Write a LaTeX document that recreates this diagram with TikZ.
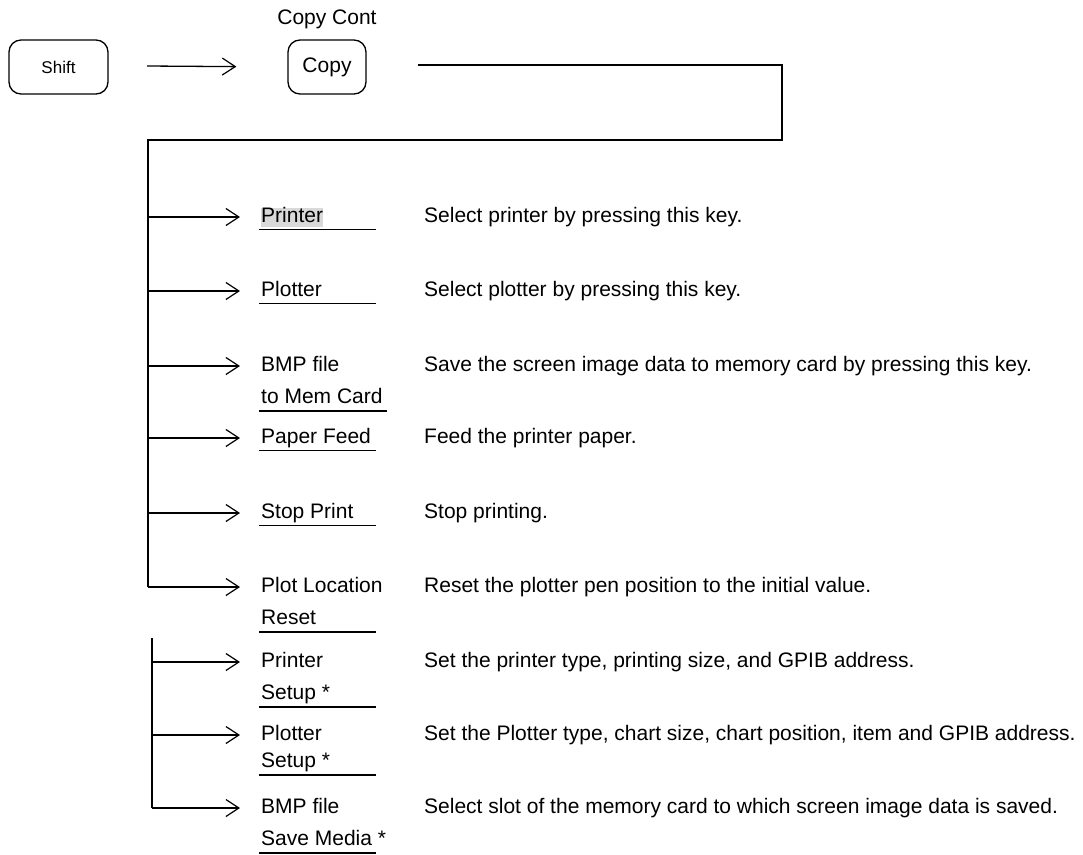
\documentclass[tikz,border=0pt]{standalone}
\usepackage{fontspec}
\setmainfont{Liberation Sans}
\usetikzlibrary{arrows.meta,positioning,calc}
\tikzset{key/.style={draw,line width=1.3pt,rounded corners=12pt,minimum height=54pt,inner sep=0pt},
 wire/.style={line width=1.3pt},arr/.style={wire,-{Straight Barb[length=13pt,width=17pt,line width=1.2pt]},shorten >=21pt},
 lbl/.style={anchor=west,inner sep=0pt,text height=15pt,text depth=4pt},
 desc/.style={lbl},
 every node/.style={font=\fontsize{21}{25}\selectfont}}

\begin{document}
\begin{tikzpicture}[x=1pt,y=-1pt]
\useasboundingbox (0,0) rectangle (1083,854);
\node[key,minimum width=99pt,font=\fontsize{17}{20}\selectfont] (shift) at (58.5,67) {Shift};
\node[key,minimum width=78pt] (copy) at (327,67) {Copy};
\node (cont) at (327,19) {Copy Cont};
\coordinate (s0) at (147,66);
\draw[arr,shorten >=51pt] (s0) -- (copy.west);
% bus from Copy down to the menu keys
\coordinate (c0) at (418,65);
\coordinate (corner) at (782,140);
\coordinate (bus) at (148,140);
% first group
\node[lbl,fill=gray!30] (pr) at (261,217) {Printer};
\node[lbl] (pl) at (261,291) {Plotter};
\node[lbl] (bmp) at (261,366) {BMP file};
\node[lbl,below=13pt of bmp.south west,anchor=north west] (bmp2) {to Mem Card};
\node[lbl] (pf) at (261,438) {Paper Feed};
\node[lbl] (sp) at (261,513) {Stop Print};
\node[lbl] (loc) at (261,587) {Plot Location};
\node[lbl,below=13pt of loc.south west,anchor=north west] (loc2) {Reset};
% second group
\node[lbl] (prs) at (261,662) {Printer};
\node[lbl,below=13pt of prs.south west,anchor=north west] (prs2) {Setup *};
\node[lbl] (pls) at (261,735) {Plotter};
\node[lbl,below=8pt of pls.south west,anchor=north west] (pls2) {Setup *};
\node[lbl] (bsm) at (261,808) {BMP file};
\node[lbl,below=13pt of bsm.south west,anchor=north west] (bsm2) {Save Media *};
% descriptions
\node[desc] (dpr) at (424,217) {Select printer by pressing this key.};
\node[desc] (dpl) at (424,291) {Select plotter by pressing this key.};
\node[desc] (dbmp) at (424,366) {Save the screen image data to memory card by pressing this key.};
\node[desc] (dpf) at (424,438) {Feed the printer paper.};
\node[desc] (dsp) at (424,513) {Stop printing.};
\node[desc] (dloc) at (424,587) {Reset the plotter pen position to the initial value.};
\node[desc] (dprs) at (424,662) {Set the printer type, printing size, and GPIB address.};
\node[desc] (dpls) at (424,735) {Set the Plotter type, chart size, chart position, item and GPIB address.};
\node[desc] (dbsm) at (424,808) {Select slot of the memory card to which screen image data is saved.};
% connectors
\draw[wire] (c0) -| (corner) -- (bus) -- (bus|-loc.west);
\draw[arr] (bus|-loc.west) -- (loc.west);
\draw[arr] (bus|-pr.west) -- (pr.west);
\draw[arr] (bus|-pl.west) -- (pl.west);
\draw[arr] (bus|-bmp.west) -- (bmp.west);
\draw[arr] (bus|-pf.west) -- (pf.west);
\draw[arr] (bus|-sp.west) -- (sp.west);
\coordinate (bus2) at (152,638);
\draw[wire] (bus2) -- (bus2|-bsm.west);
\draw[arr] (bus2|-prs.west) -- (prs.west);
\draw[arr] (bus2|-pls.west) -- (pls.west);
\draw[arr] (bus2|-bsm.west) -- (bsm.west);
% underlines
\draw[wire] ($(pr.south west)+(-2,3)$) -- ++(117,0);
\draw[wire] ($(pl.south west)+(-2,3)$) -- ++(117,0);
\draw[wire] ($(bmp2.south west)+(-2,3)$) -- ++(128,0);
\draw[wire] ($(pf.south west)+(-2,3)$) -- ++(117,0);
\draw[wire] ($(sp.south west)+(-2,3)$) -- ++(117,0);
\draw[wire] ($(loc2.south west)+(-2,3)$) -- ++(117,0);
\draw[wire] ($(prs2.south west)+(-2,3)$) -- ++(117,0);
\draw[wire] ($(pls2.south west)+(-2,3)$) -- ++(117,0);
\draw[wire] ($(bsm2.south west)+(-2,3)$) -- ++(117,0);
\end{tikzpicture}
\end{document}
